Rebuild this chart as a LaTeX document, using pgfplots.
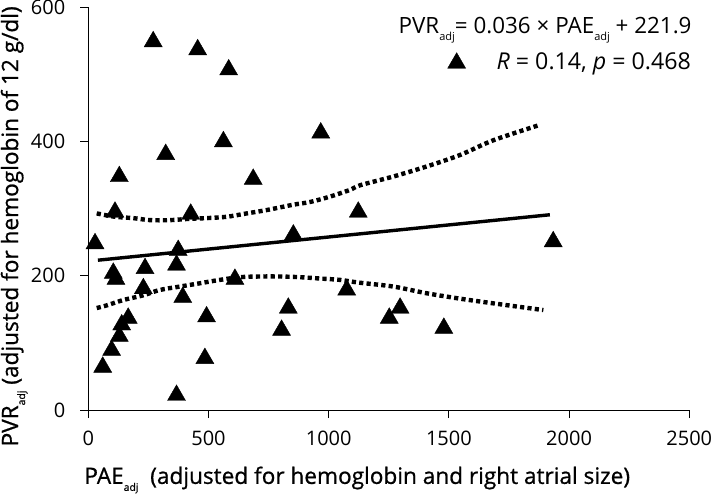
\documentclass[border=0pt]{standalone}
\usepackage{fontspec}
\setmainfont{Open Sans}
\newfontfamily\lblfont[FakeBold=0.8]{Open Sans}
\usepackage{pgfplots}
\pgfplotsset{compat=1.18}
\newcommand{\adj}[2]{\raisebox{-#1}{\fontsize{#2}{#2}\selectfont adj}}
\begin{document}
\begin{tikzpicture}
\begin{axis}[
  scale only axis, width=300.5pt, height=201.35pt,
  xmin=0, xmax=2500, ymin=0, ymax=600,
  axis x line*=bottom, axis y line*=left,
  axis line style={line width=0.5pt, black},
  xtick={0,500,...,2500}, ytick={0,200,400,600},
  tick align=outside, major tick length=4pt,
  tick style={line width=0.5pt, black},
  ticklabel style={font=\fontsize{10}{12}\selectfont},
  xticklabel style={yshift=-3pt},
  yticklabel style={xshift=-4pt},
  /pgf/number format/assume math mode=true,
  /pgf/number format/1000 sep={},
  clip=false,
  legend style={draw=none, fill=none, at={(axis cs:2525,517)}, anchor=east,
    inner sep=0pt, font=\fontsize{11.6}{14}\selectfont,
    /tikz/every odd column/.append style={column sep=13.5pt}},
  legend cell align=left,
]
\addplot[only marks, mark=triangle*, mark size=5.2pt, mark options={fill=black, draw=black, line width=0.2pt}]
 coordinates {
 (28,248) (60,64) (97,89) (104,204) (111,295) (115,195) (129,348) (129,110)
 (139,127) (166,137) (229,181) (236,211) (270,549) (322,381) (367,216) (367,22)
 (374,238) (393,168) (426,292) (455,537) (485,77) (492,139) (562,400) (584,507)
 (610,195) (686,344) (804,119) (832,152) (853,261) (967,413) (1075,179) (1123,295)
 (1252,137) (1297,152) (1479,122) (1934,251)
 };
\addlegendentry{\textit{R} = 0.14, \textit{p} = 0.468}
\addplot[forget plot, black, line width=1.7pt] coordinates {(40,223.3) (1920,291.0)};
\addplot[forget plot, black, line width=2.2pt, dash pattern=on 2.1pt off 1.6pt, smooth] coordinates {
 (35,293) (111,288) (187,286) (257,283) (340,283) (423,285) (493,286) (576,288)
 (659,293) (742,298) (853,306) (922,310) (1005,318) (1088,328) (1131,335)
 (1269,348) (1408,363) (1546,380) (1685,402) (1879,425)
 };
\addplot[forget plot, black, line width=2.2pt, dash pattern=on 2.1pt off 1.6pt, smooth] coordinates {
 (35,152) (77,156) (146,164) (229,171) (298,179) (381,184) (465,189) (548,194)
 (631,198) (714,199) (797,199) (880,198) (963,196) (1046,194) (1123,190)
 (1269,184) (1408,174) (1546,166) (1685,159) (1893,149)
 };
\node[anchor=base east, inner sep=0pt, font=\fontsize{11.2}{14}\selectfont] at (axis cs:2511,561)
  {PVR\adj{3.5pt}{5.5}= 0.036 × PAE\adj{3.5pt}{5.5} + 221.9};
\node[anchor=base west, inner sep=0pt, font=\lblfont\fontsize{11.3}{13}\selectfont] at (axis cs:-18,-110)
  {PAE\adj{3.5pt}{5.2}\ \ (adjusted for hemoglobin and right atrial size)};
\node[anchor=base west, rotate=90, inner sep=0pt, font=\lblfont\fontsize{11.3}{13}\selectfont] at (axis cs:-292,-54.7)
  {PVR\adj{3.5pt}{5.2} (adjusted for hemoglobin of 12 g/dl)};
\coordinate (BL) at (axis cs:-367.3,-128.2);
\coordinate (TR) at (axis cs:2615.3,611.0);
\end{axis}
\pgfresetboundingbox
\path[use as bounding box] (BL) rectangle (TR);
\end{tikzpicture}
\end{document}
